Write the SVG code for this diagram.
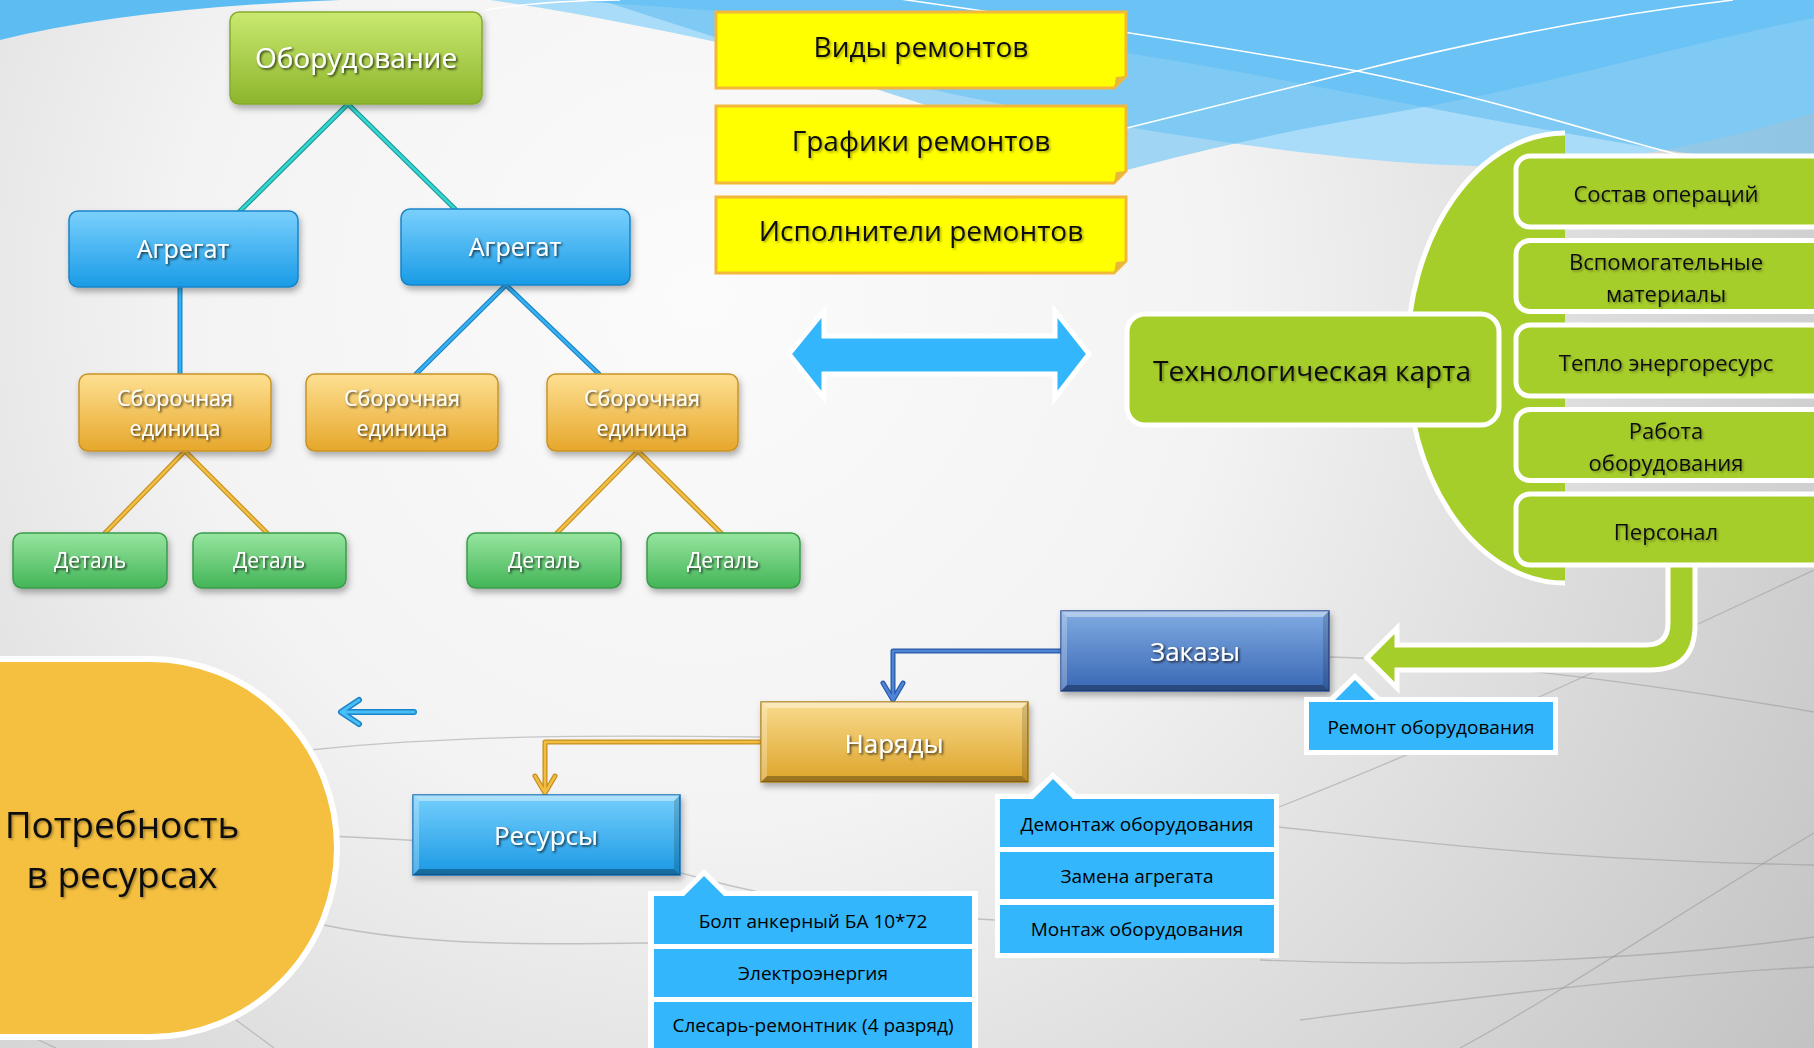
<svg xmlns="http://www.w3.org/2000/svg" width="1814" height="1048" viewBox="0 0 1814 1048">
<defs>
  <radialGradient id="bg" cx="700" cy="300" r="1500" gradientUnits="userSpaceOnUse">
    <stop offset="0" stop-color="#fbfbfb"/>
    <stop offset="0.35" stop-color="#f3f3f3"/>
    <stop offset="1" stop-color="#b9b9b9"/>
  </radialGradient>
  <linearGradient id="gOb" x1="0" y1="0" x2="0" y2="1"><stop offset="0" stop-color="#c9e970"/><stop offset="1" stop-color="#8db52c"/></linearGradient>
  <linearGradient id="gAg" x1="0" y1="0" x2="0" y2="1"><stop offset="0" stop-color="#7ad0fd"/><stop offset="1" stop-color="#199be6"/></linearGradient>
  <linearGradient id="gSe" x1="0" y1="0" x2="0" y2="1"><stop offset="0" stop-color="#fee092"/><stop offset="1" stop-color="#e6a72b"/></linearGradient>
  <linearGradient id="gDet" x1="0" y1="0" x2="0" y2="1"><stop offset="0" stop-color="#97e59f"/><stop offset="1" stop-color="#43b557"/></linearGradient>
  <linearGradient id="gZak" x1="0" y1="0" x2="0" y2="1"><stop offset="0" stop-color="#80abe2"/><stop offset="1" stop-color="#3967b4"/></linearGradient>
  <linearGradient id="gNar" x1="0" y1="0" x2="0" y2="1"><stop offset="0" stop-color="#f9db8e"/><stop offset="1" stop-color="#dda42a"/></linearGradient>
  <linearGradient id="gRes" x1="0" y1="0" x2="0" y2="1"><stop offset="0" stop-color="#76cffd"/><stop offset="1" stop-color="#1a99e3"/></linearGradient>
  <filter id="bs" x="-10%" y="-20%" width="130%" height="150%">
    <feDropShadow dx="2" dy="4" stdDeviation="3" flood-color="#000" flood-opacity="0.3"/>
  </filter>
  <filter id="tsw" x="-10%" y="-30%" width="130%" height="170%">
    <feDropShadow dx="1.5" dy="1.5" stdDeviation="0.8" flood-color="#000" flood-opacity="0.75"/>
  </filter>
  <filter id="tsd" x="-10%" y="-30%" width="130%" height="170%">
    <feDropShadow dx="1.5" dy="1.5" stdDeviation="1" flood-color="#000" flood-opacity="0.35"/>
  </filter>
  <style>
    text { font-family: 'Open Sans', 'Noto Sans', 'DejaVu Sans', sans-serif; text-anchor: middle; dominant-baseline: central; }
    .wt { fill: #ffffff; filter: url(#tsw); }
    .dk { fill: #111111; filter: url(#tsd); }
    .bk { fill: #000000; }
    .yel { fill: #ffff00; stroke: #f2b83a; stroke-width: 3; }
    .fold { fill: #e8b83c; }
    .grn { fill: #a6ce2a; stroke: #ffffff; stroke-width: 5; }
    .bl { fill: #33b6fb; }
    .wf { fill: #ffffff; }
    .bevT { fill: #ffffff; opacity: 0.4; }
    .bevL { fill: #ffffff; opacity: 0.25; }
    .bevR { fill: #000000; opacity: 0.15; }
    .bevB { fill: #000000; opacity: 0.3; }
    .gl { fill: none; stroke: #8f8f8f; stroke-width: 1.3; opacity: 0.45; }
    .wl { fill: none; stroke: #ffffff; stroke-width: 1.5; }
  </style>
</defs>

<g id="background">
  <rect x="0" y="0" width="1814" height="1048" fill="url(#bg)"/>
  <path d="M0 0 H340 Q130 8 0 40 Z" fill="#5dbdf2"/>
  <path d="M490 0 C700 30 900 90 1127 127 C1300 155 1420 168 1520 166 C1640 162 1740 135 1814 113 V0 Z" fill="#a9dcf8"/>
  <path d="M560 0 C800 15 1000 35 1127 53 C1300 80 1500 125 1678 152 C1740 160 1790 160 1814 158 V0 Z" fill="#5bbcf2" opacity="0.55"/>
  <path d="M1127 170 C1200 150 1300 128 1391 113 C1550 85 1700 40 1814 18 V0 H600 Z" fill="#5bbcf2" opacity="0.55"/>
  <path class="wl" d="M700 -30 C900 0 1100 25 1357 71 C1500 100 1600 135 1680 155"/>
  <path class="wl" d="M1127 128 C1200 110 1280 90 1357 71 C1500 35 1630 12 1733 0"/>
  <path class="wl" d="M486 10 C530 3 580 0 620 0"/>
  <path class="gl" d="M1279 807 C1450 740 1600 670 1814 570"/>
  <path class="gl" d="M1330 657 C1450 660 1600 675 1814 712"/>
  <path class="gl" d="M1279 827 C1400 840 1550 860 1814 865"/>
  <path class="gl" d="M1260 960 C1450 968 1650 960 1814 937"/>
  <path class="gl" d="M1814 833 C1700 900 1550 1000 1460 1048"/>
  <path class="gl" d="M1300 1020 C1450 1000 1650 975 1814 967"/>
  <path class="gl" d="M330 836 C420 840 600 850 700 878 C800 905 900 915 995 920"/>
  <path class="gl" d="M324 925 C420 945 520 945 648 943"/>
  <path class="gl" d="M310 750 C450 735 600 735 760 737"/>
  <path class="gl" d="M236 1020 L274 1048"/>
  <path class="gl" d="M30 1036 L56 1048"/>
</g>

<g id="decor">
  <path d="M1565 133 A158 225 0 0 0 1565 583 Z" fill="#a6ce2a"/>
  <path d="M1565 133 A158 225 0 0 0 1565 583" fill="none" stroke="#ffffff" stroke-width="5"/>
</g>

<g id="connectors">
  <g stroke-linecap="round" fill="none">
    <path d="M348 104 L240 211 M348 104 L455 209" stroke="#1f9c9a" stroke-width="5"/>
    <path d="M348 104 L240 211 M348 104 L455 209" stroke="#34d6d2" stroke-width="2.5"/>
    <path d="M180 287 V374 M506 285 L416 374 M506 285 L599 374" stroke="#1b86c8" stroke-width="5"/>
    <path d="M180 287 V374 M506 285 L416 374 M506 285 L599 374" stroke="#36b0f0" stroke-width="2.5"/>
    <path d="M185 451 L105 533 M185 451 L267 533 M638 451 L557 533 M638 451 L721 533" stroke="#c99424" stroke-width="5"/>
    <path d="M185 451 L105 533 M185 451 L267 533 M638 451 L557 533 M638 451 L721 533" stroke="#f2bf45" stroke-width="2.5"/>
  </g>
  <g fill="none" stroke-linejoin="round" stroke-linecap="round">
    <path d="M1061 651 H893 V700 M883 683 L893 700 L903 683" stroke="#2b58a6" stroke-width="5"/>
    <path d="M1061 651 H893 V700 M883 683 L893 700 L903 683" stroke="#4d86d8" stroke-width="2.5"/>
    <path d="M761 742 H545 V793 M535 776 L545 793 L555 776" stroke="#c48e1e" stroke-width="5"/>
    <path d="M761 742 H545 V793 M535 776 L545 793 L555 776" stroke="#f2bd40" stroke-width="2.5"/>
    <path d="M414 712 H342 M359 700 L341 712 L359 724" stroke="#1d83c6" stroke-width="6"/>
    <path d="M414 712 H342 M359 700 L341 712 L359 724" stroke="#46bff8" stroke-width="3"/>
  </g>
  <path id="double-arrow" d="M789 354 L824 311 V336 H1055 V311 L1089 354 L1055 398 V374 H824 V398 Z" fill="#33b6fb" stroke="#ffffff" stroke-width="5" stroke-linejoin="miter"/>
  <path id="green-arrow" d="M1668 560 V623 Q1668 645 1646 645 H1397 V628 L1367 658 L1397 688 V670 H1650 Q1695 670 1695 625 V560 Z" class="grn"/>
</g>

<g id="n-oborudovanie">
  <rect x="230" y="12" width="252" height="92" rx="9" fill="url(#gOb)" stroke="#86ab2d" stroke-width="1.5" filter="url(#bs)"/>
  <text x="356" y="57" font-size="28" class="wt">Оборудование</text>
</g>
<g id="n-agregat1">
  <rect x="69" y="211" width="229" height="76" rx="9" fill="url(#gAg)" stroke="#1784c7" stroke-width="1.5" filter="url(#bs)"/>
  <text x="183" y="248" font-size="25" class="wt">Агрегат</text>
</g>
<g id="n-agregat2">
  <rect x="401" y="209" width="229" height="76" rx="9" fill="url(#gAg)" stroke="#1784c7" stroke-width="1.5" filter="url(#bs)"/>
  <text x="515" y="246" font-size="25" class="wt">Агрегат</text>
</g>
<g id="n-se1">
  <rect x="79" y="374" width="192" height="77" rx="9" fill="url(#gSe)" stroke="#c99427" stroke-width="1.5" filter="url(#bs)"/>
  <text x="175" y="397" font-size="21.5" class="wt">Сборочная</text>
  <text x="175" y="427" font-size="21.5" class="wt">единица</text>
</g>
<g id="n-se2">
  <rect x="306" y="374" width="192" height="77" rx="9" fill="url(#gSe)" stroke="#c99427" stroke-width="1.5" filter="url(#bs)"/>
  <text x="402" y="397" font-size="21.5" class="wt">Сборочная</text>
  <text x="402" y="427" font-size="21.5" class="wt">единица</text>
</g>
<g id="n-se3">
  <rect x="547" y="374" width="191" height="77" rx="9" fill="url(#gSe)" stroke="#c99427" stroke-width="1.5" filter="url(#bs)"/>
  <text x="642" y="397" font-size="21.5" class="wt">Сборочная</text>
  <text x="642" y="427" font-size="21.5" class="wt">единица</text>
</g>
<g id="n-det1">
  <rect x="13" y="533" width="154" height="55" rx="9" fill="url(#gDet)" stroke="#3a9c4b" stroke-width="1.5" filter="url(#bs)"/>
  <text x="90" y="560" font-size="21" class="wt">Деталь</text>
</g>
<g id="n-det2">
  <rect x="193" y="533" width="153" height="55" rx="9" fill="url(#gDet)" stroke="#3a9c4b" stroke-width="1.5" filter="url(#bs)"/>
  <text x="269" y="560" font-size="21" class="wt">Деталь</text>
</g>
<g id="n-det3">
  <rect x="467" y="533" width="154" height="55" rx="9" fill="url(#gDet)" stroke="#3a9c4b" stroke-width="1.5" filter="url(#bs)"/>
  <text x="544" y="560" font-size="21" class="wt">Деталь</text>
</g>
<g id="n-det4">
  <rect x="647" y="533" width="153" height="55" rx="9" fill="url(#gDet)" stroke="#3a9c4b" stroke-width="1.5" filter="url(#bs)"/>
  <text x="723" y="560" font-size="21" class="wt">Деталь</text>
</g>

<g id="n-vidy">
  <path class="yel" d="M716 12 H1126 V76 L1114 88 H716 Z"/>
  <path class="fold" d="M1114 88 L1116 77 L1126 76 Z"/>
  <text x="921" y="46" font-size="28" class="dk">Виды ремонтов</text>
</g>
<g id="n-grafiki">
  <path class="yel" d="M716 106 H1126 V171 L1114 183 H716 Z"/>
  <path class="fold" d="M1114 183 L1116 172 L1126 171 Z"/>
  <text x="921" y="140" font-size="28" class="dk">Графики ремонтов</text>
</g>
<g id="n-ispolniteli">
  <path class="yel" d="M716 197 H1126 V261 L1114 273 H716 Z"/>
  <path class="fold" d="M1114 273 L1116 262 L1126 261 Z"/>
  <text x="921" y="230" font-size="28" class="dk">Исполнители ремонтов</text>
</g>

<g id="n-techkarta">
  <rect x="1127" y="314" width="372" height="111" rx="18" class="grn"/>
  <text x="1312" y="370" font-size="28" class="dk">Технологическая карта</text>
</g>
<g id="n-sostav">
  <rect x="1516" y="156" width="320" height="71" rx="14" class="grn"/>
  <text x="1666" y="193" font-size="22" class="dk">Состав операций</text>
</g>
<g id="n-vspom">
  <rect x="1516" y="240.5" width="320" height="71" rx="14" class="grn"/>
  <text x="1666" y="261" font-size="22" class="dk">Вспомогательные</text>
  <text x="1666" y="293" font-size="22" class="dk">материалы</text>
</g>
<g id="n-teplo">
  <rect x="1516" y="325" width="320" height="71" rx="14" class="grn"/>
  <text x="1666" y="362" font-size="22" class="dk">Тепло энергоресурс</text>
</g>
<g id="n-rabota">
  <rect x="1516" y="409.5" width="320" height="71" rx="14" class="grn"/>
  <text x="1666" y="430" font-size="22" class="dk">Работа</text>
  <text x="1666" y="462" font-size="22" class="dk">оборудования</text>
</g>
<g id="n-personal">
  <rect x="1516" y="494" width="320" height="71" rx="14" class="grn"/>
  <text x="1666" y="531" font-size="22" class="dk">Персонал</text>
</g>

<g id="n-zakazy">
  <g filter="url(#bs)">
    <rect x="1061" y="611" width="268" height="80" fill="url(#gZak)" stroke="#2b5398" stroke-width="1.5"/>
    <polygon class="bevT" points="1061,611 1329,611 1323,617 1067,617"/>
    <polygon class="bevL" points="1061,611 1067,617 1067,685 1061,691"/>
    <polygon class="bevR" points="1329,611 1329,691 1323,685 1323,617"/>
    <polygon class="bevB" points="1061,691 1067,685 1323,685 1329,691"/>
  </g>
  <text x="1195" y="651" font-size="26" class="wt">Заказы</text>
</g>

<g id="n-naryady">
  <g filter="url(#bs)">
    <rect x="761" y="702" width="267" height="80" fill="url(#gNar)" stroke="#ad801c" stroke-width="1.5"/>
    <polygon class="bevT" points="761,702 1028,702 1022,708 767,708"/>
    <polygon class="bevL" points="761,702 767,708 767,776 761,782"/>
    <polygon class="bevR" points="1028,702 1028,782 1022,776 1022,708"/>
    <polygon class="bevB" points="761,782 767,776 1022,776 1028,782"/>
  </g>
  <text x="894" y="743" font-size="26" class="wt">Наряды</text>
</g>

<g id="n-resursy">
  <g filter="url(#bs)">
    <rect x="413" y="795" width="267" height="80" fill="url(#gRes)" stroke="#1470b8" stroke-width="1.5"/>
    <polygon class="bevT" points="413,795 680,795 674,801 419,801"/>
    <polygon class="bevL" points="413,795 419,801 419,869 413,875"/>
    <polygon class="bevR" points="680,795 680,875 674,869 674,801"/>
    <polygon class="bevB" points="413,875 419,869 674,869 680,875"/>
  </g>
  <text x="546" y="835" font-size="26" class="wt">Ресурсы</text>
</g>

<g id="n-remont">
  <polygon class="wf" points="1355,673 1381,698 1329,698"/>
  <rect class="wf" x="1304" y="697" width="254" height="58"/>
  <polygon class="bl" points="1355,680 1375,700 1335,700"/>
  <rect class="bl" x="1309" y="702" width="244" height="48"/>
  <text x="1431" y="727" font-size="19" class="bk">Ремонт оборудования</text>
</g>

<g id="n-naryady-list">
  <polygon class="wf" points="1053,772 1079,796 1027,796"/>
  <rect class="wf" x="995" y="794" width="284" height="164"/>
  <polygon class="bl" points="1053,779 1073,799 1033,799"/>
  <rect class="bl" x="1000" y="799" width="274" height="48"/>
  <rect class="bl" x="1000" y="852" width="274" height="47"/>
  <rect class="bl" x="1000" y="905" width="274" height="48"/>
  <text x="1137" y="824" font-size="19" class="bk">Демонтаж оборудования</text>
  <text x="1137" y="876" font-size="19" class="bk">Замена агрегата</text>
  <text x="1137" y="929" font-size="19" class="bk">Монтаж оборудования</text>
</g>

<g id="n-resursy-list">
  <polygon class="wf" points="704,869 730,894 678,894"/>
  <rect class="wf" x="648" y="891" width="330" height="170"/>
  <polygon class="bl" points="704,876 724,896 684,896"/>
  <rect class="bl" x="654" y="896" width="318" height="48"/>
  <rect class="bl" x="654" y="949" width="318" height="48"/>
  <rect class="bl" x="654" y="1002" width="318" height="60"/>
  <text x="813" y="921" font-size="19" class="bk">Болт анкерный БА 10*72</text>
  <text x="813" y="973" font-size="19" class="bk">Электроэнергия</text>
  <text x="813" y="1025" font-size="19" class="bk">Слесарь-ремонтник (4 разряд)</text>
</g>

<g id="n-potrebnost">
  <path d="M-10 659 H150 A187 189 0 0 1 150 1037 H-10 Z" fill="#f5bf40" stroke="#ffffff" stroke-width="6"/>
  <text x="122" y="823" font-size="37" class="dk">Потребность</text>
  <text x="122" y="873" font-size="37" class="dk">в ресурсах</text>
</g>
</svg>
